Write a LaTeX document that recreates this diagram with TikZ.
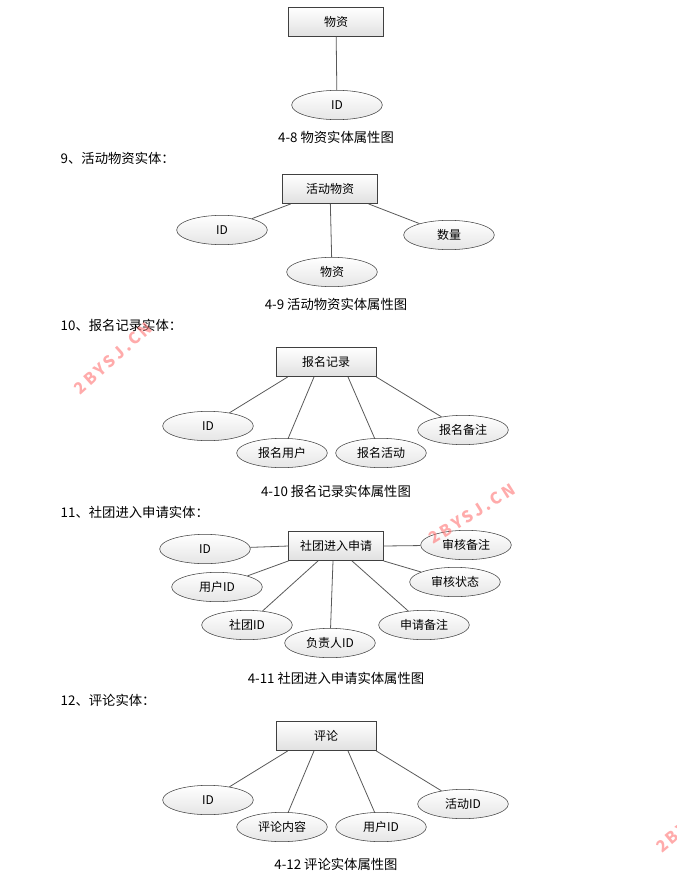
\documentclass[tikz,border=0pt]{standalone}
\usepackage{fontspec}
\setmainfont{Noto Sans CJK SC}
\usetikzlibrary{shapes.geometric}
\begin{document}
\begin{tikzpicture}[x=0.75pt,y=-0.75pt,
  ent/.style={draw=black!75,rectangle,top color=white,bottom color=black!12,minimum width=71pt,minimum height=22pt,font=\fontsize{9}{10}\selectfont},
  att/.style={draw=black!75,ellipse,top color=white,bottom color=black!10,minimum width=68pt,minimum height=22pt,inner sep=0pt,font=\fontsize{9}{10}\selectfont},
  capt/.style={font=\fontsize{10}{12}\selectfont},
  sec/.style={font=\fontsize{10}{12}\selectfont,anchor=west},
  ln/.style={draw=black!65,line width=0.6pt},
  wm/.style={text=red!55,opacity=0.6,font=\bfseries\fontsize{12}{12}\selectfont}]
\useasboundingbox (0,0) rectangle (677,886);
% 4-8
\node[ent] (e1) at (336,22) {物资};
\node[att] (a11) at (337,105) {ID};
\draw[ln] (e1) -- (a11);
\node[capt] (c1) at (336,137) {4-8 物资实体属性图};
\node[sec] (s9) at (56,158) {9、活动物资实体：};
% 4-9
\node[ent] (e2) at (330,189) {活动物资};
\node[att] (a21) at (222,230) {ID};
\node[att] (a22) at (449,235) {数量};
\node[att] (a23) at (332,272) {物资};
\foreach \a in {a21,a22,a23} \draw[ln] (e2) -- (\a);
\node[capt] (c2) at (336,304) {4-9 活动物资实体属性图};
\node[sec] (s10) at (56,325) {10、报名记录实体：};
% 4-10
\node[ent,minimum width=75pt] (e3) at (326,362) {报名记录};
\node[att] (a31) at (208,426) {ID};
\node[att] (a32) at (282,453) {报名用户};
\node[att] (a33) at (381,453) {报名活动};
\node[att] (a34) at (463,430) {报名备注};
\draw[ln] (e3.south west)++(12,0) -- (a31);
\draw[ln] (e3.south)++(-12,0) -- (a32);
\draw[ln] (e3.south)++(22,0) -- (a33);
\draw[ln] (e3.south east) -- (a34);
\node[capt] (c3) at (336,491) {4-10 报名记录实体属性图};
\node[sec] (s11) at (56,512) {11、社团进入申请实体：};
% 4-11
\node[ent] (e4) at (336,546) {社团进入申请};
\node[att] (a41) at (205,549) {ID};
\node[att] (a42) at (466,545) {审核备注};
\node[att] (a43) at (217,587) {用户ID};
\node[att] (a44) at (455,582) {审核状态};
\node[att] (a45) at (247,625) {社团ID};
\node[att] (a46) at (424,625) {申请备注};
\node[att] (a47) at (330,643) {负责人ID};
\draw[ln] (e4.west) -- (a41);
\draw[ln] (e4.east) -- (a42);
\draw[ln] (e4.south west) -- (a43);
\draw[ln] (e4.south east) -- (a44);
\draw[ln] (e4.south)++(-18,0) -- (a45);
\draw[ln] (e4.south)++(16,0) -- (a46);
\draw[ln] (e4.south)++(-3,0) -- (a47);
\node[capt] (c4) at (336,678) {4-11 社团进入申请实体属性图};
\node[sec] (s12) at (56,700) {12、评论实体：};
% 4-12
\node[ent,minimum width=75pt] (e5) at (326,736) {评论};
\node[att] (a51) at (208,800) {ID};
\node[att] (a52) at (282,827) {评论内容};
\node[att] (a53) at (381,827) {用户ID};
\node[att] (a54) at (463,804) {活动ID};
\draw[ln] (e5.south west)++(12,0) -- (a51);
\draw[ln] (e5.south)++(-12,0) -- (a52);
\draw[ln] (e5.south)++(22,0) -- (a53);
\draw[ln] (e5.south east) -- (a54);
\node[capt] (c5) at (336,864) {4-12 评论实体属性图};
% watermarks
\node[wm,rotate=42] (w1) at (113,358) {2\,B\,Y\,S\,J\,.\,C\,N};
\node[wm,rotate=32] (w2) at (472,514) {2\,B\,Y\,S\,J\,.\,C\,N};
\node[wm,rotate=40,anchor=west] (w3) at (655,852) {2\,B\,Y};
\end{tikzpicture}
\end{document}
